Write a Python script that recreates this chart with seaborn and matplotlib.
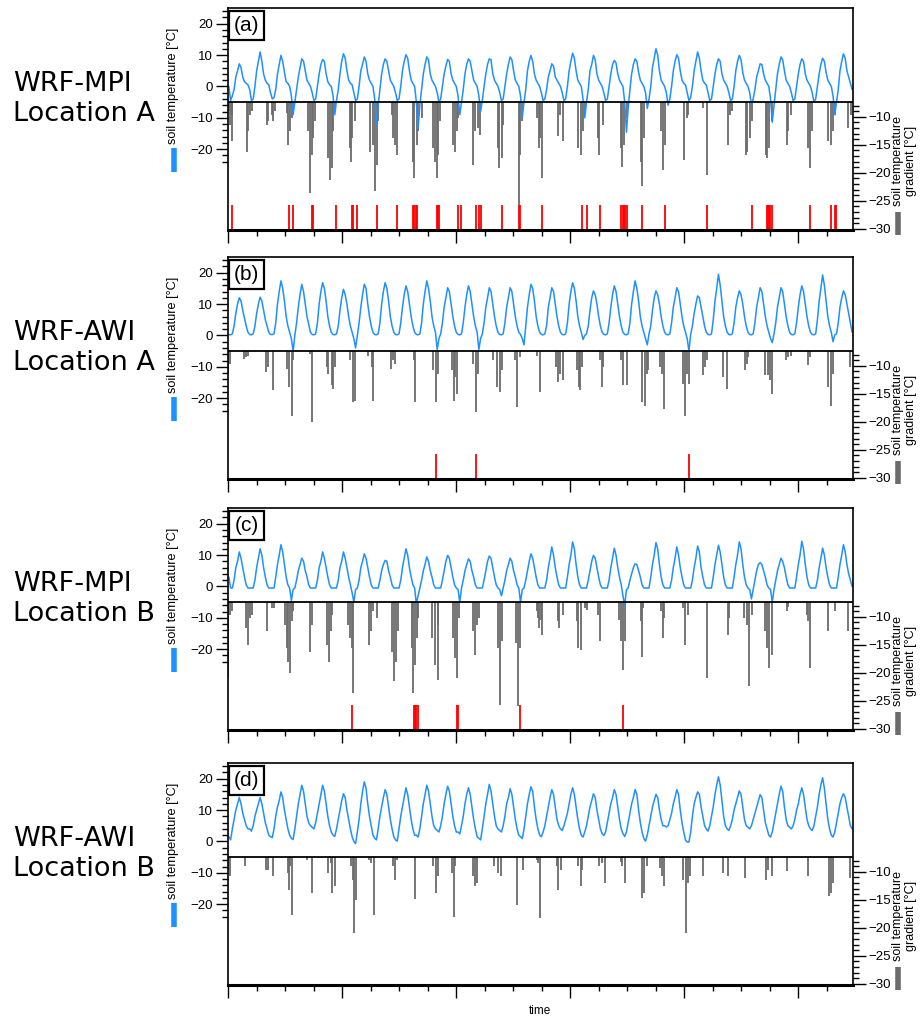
import numpy as np
import pandas as pd
import matplotlib
matplotlib.use("Agg")
import matplotlib.pyplot as plt
from matplotlib.ticker import FixedLocator
import seaborn as sns

# monthly soil temperature [degC], one row per year (Jan..Dec), 30 years
temp_a = [
    [0, -4.5, -3, -1, 3, 5, 7.2, 6, 3, 1.5, 1, 0.5],
    [-1, -4.5, -4, 0, 5, 8, 11, 8, 4, 2, 1, 0.5],
    [-2, -4, -3.5, -1, 4, 7, 9.9, 8, 4.5, 1.5, 1, 0],
    [-3, -9, -5, -1, 3, 6, 8.8, 8, 5, 2, 1, 0],
    [-2, -4.5, -4, 0, 4, 7, 8.6, 8, 4, 1.5, 0.5, 0],
    [-3, -9, -4.5, -1, 4, 8, 10.4, 9, 5, 2, 1, 0.5],
    [-2, -4.5, -4, 0, 5, 7, 9.4, 8, 4, 2, 1, 0],
    [-4, -12, -6, -1, 4, 7, 8.8, 8, 5, 2, 1, 0],
    [-2, -4.5, -4, 0, 5, 8, 10.1, 9, 5, 2, 1, 0],
    [-5, -13.5, -6, -1, 4, 7, 9.4, 8.5, 4, 2, 1, 0],
    [-2, -5, -4, 0, 4, 6.5, 8.6, 8, 4, 2, 1, 0],
    [-3, -9, -5, -1, 4, 7, 8.8, 8, 5, 2, 1, 0],
    [-3, -8, -4.5, 0, 4, 7, 8.8, 8.5, 4, 2, 1, 0],
    [-2, -4.5, -4, 0, 4, 7, 9.4, 8.5, 5, 2, 1, 0],
    [-3, -10, -5, -1, 5, 8, 9.9, 8, 4, 2, 1, 0],
    [-2, -4.5, -4, -1, 3, 5, 7.2, 6.5, 3, 2, 1, 0],
    [-2, -4.5, -4, 0, 5, 8, 10.6, 9, 5, 2, 1, 0],
    [-4, -10, -5, -1, 5, 7, 9.9, 8.5, 4, 2, 1, 0],
    [-2, -4.5, -4, 0, 4, 7, 8.3, 7.5, 4, 2, 1, 0],
    [-5, -14.6, -7, -1, 4, 7, 8.8, 8, 4.5, 2, 1, 0],
    [-2, -7, -4, 0, 6, 9, 12, 10, 5, 2, 1, 0],
    [-2, -6, -4, 0, 5, 8, 10.1, 9, 5, 2, 1, 0.5],
    [-2, -4.5, -3.5, 0, 5, 8, 11, 9, 5, 2, 1, 0.5],
    [-2, -4.5, -4, 0, 4, 7, 8.8, 8, 4, 2, 1, 0],
    [-2, -4.5, -4, 0, 5, 8, 9.9, 8.5, 4.5, 2, 1, 0],
    [-2, -6, -4, -1, 3, 5, 7.2, 7, 4, 2, 1, 0],
    [-4, -11.4, -6, -1, 4, 7, 9.4, 8.5, 5, 2, 1, 0],
    [-2, -4.5, -4, 0, 4, 7, 8.8, 8, 4, 2, 1, 0],
    [-2, -5, -4, 0, 4, 7, 9, 8, 4.5, 2, 1, 0],
    [-3, -9, -5, -1, 5, 8, 10.4, 9, 5, 3, 1, -1],
]
temp_b = [
    [0.3, 0.2, 0.5, 3, 7, 10, 12, 11, 8, 5.5, 3, 1],
    [0.3, 0.2, 0.5, 3, 7, 10, 12.2, 11, 8, 5, 3, 1],
    [0.3, 0.3, 0.5, 4, 10, 14, 17.4, 15, 11, 6, 3, 1],
    [-1, -5, 0, 4, 9, 13, 16.3, 14, 10, 6, 3.5, 1],
    [0.3, 0.2, 0.5, 4, 10, 14, 16.8, 15, 11, 6, 3, 1],
    [0.3, 0.2, 0.5, 3, 8, 12, 14.7, 13, 10, 6, 3, 1],
    [-1, -4, 0, 4, 9, 13, 16.3, 15, 10, 6, 3, 1],
    [0.3, 0.2, 0.5, 4, 10, 14, 16.8, 15, 11, 6, 3, 1],
    [0.3, 0.2, 0.5, 4, 9, 13, 15.8, 14, 10, 6, 3, 1],
    [0.3, 0.2, 0.5, 4, 10, 14, 17.4, 15, 11, 6, 3, 1],
    [-4.5, -1, 0.5, 4, 9, 12, 15.2, 14, 10, 6, 3, 1],
    [0.3, 0.2, 0.5, 4, 9, 13, 15.8, 14, 10, 6, 3, 1],
    [-4.5, -1, 0.5, 4, 9, 12, 15.2, 14, 10, 6, 3, 1],
    [0.3, 0.2, 0.5, 4, 9, 12, 15.2, 14, 10, 6, 3, 1],
    [0.3, -1, -3, 3, 9, 13, 16.3, 15, 11, 6, 3, 1],
    [0.3, 0.2, 0.5, 3, 9, 12, 15.2, 14, 10, 6, 3, 1],
    [0.3, 0.2, 0.5, 4, 10, 14, 16.8, 15, 11, 6, 3, 1],
    [-1.3, 0, 0.5, 3, 8, 12, 14.2, 13, 10, 6, 3, 1],
    [0.3, 0.2, 0.5, 4, 9, 13, 15.8, 14, 10, 6, 3, 1],
    [0.3, 0.2, 0.5, 4, 10, 14, 17.4, 15, 11, 6, 3, 1],
    [-1, -3, 0.5, 3, 8, 12, 14.2, 13, 10, 6, 3, 1],
    [0.3, 0.2, 0.5, 4, 9, 12, 15.2, 14, 10, 6, 3, 1],
    [-1, -5, 0.3, 3, 7, 10, 12.6, 12, 9, 6, 3, 1],
    [0.3, 0.2, 0.5, 5, 11, 15, 19.5, 16, 11, 6, 3, 1],
    [0.3, 0.2, 0.5, 4, 9, 12, 14.2, 13, 10, 6, 3, 1],
    [0.3, 0.2, 0.5, 4, 9, 12, 15.2, 14, 10, 6, 3, 1],
    [-1, -2.3, 0.5, 4, 9, 12, 15.2, 14, 10, 6, 3, 1],
    [0.3, 0.2, 0.5, 4, 9, 13, 15.8, 14, 10, 6, 3, 1],
    [0.3, 0.2, 0.5, 5, 11, 15, 19.3, 16, 11, 6, 3, 1],
    [-2, 0.2, 0.5, 4, 9, 12, 14.2, 13, 10, 7, 4, 1],
]
temp_c = [
    [3, -0.5, -0.5, 2, 6, 8, 11, 9, 6, 3, 0.5, -0.5],
    [-0.5, -0.5, -0.5, 2, 6, 9, 12, 10, 6, 3, 0.5, -0.5],
    [-0.5, -0.5, -0.5, 3, 7, 10, 13.3, 11, 7, 3, 0.5, -0.5],
    [-4.5, -1, -0.5, 2, 5, 7, 9, 8, 5, 3, 0.5, -0.5],
    [-0.5, -0.5, -0.5, 2, 6, 8, 11, 9, 6, 3, 0.5, -0.5],
    [-0.5, -0.5, -0.5, 2, 6, 8, 11, 9, 6, 3, 0.5, -2],
    [-5, -1, -0.5, 2, 6, 8, 10.4, 9, 6, 3, 0.5, -0.5],
    [-0.5, -0.5, -0.5, 2, 5, 7, 8.3, 8, 5, 3, 0.5, -0.5],
    [-0.5, -0.5, -0.5, 2, 6, 9, 12, 10, 6, 3, 0.5, -0.5],
    [-5.5, -3, -0.5, 2, 5, 7, 9.4, 8, 5, 3, 0.5, -0.5],
    [-0.5, -0.5, -0.5, 2, 5, 8, 9.9, 9, 6, 3, 0.5, -0.5],
    [-1, -5, -0.5, 2, 5, 7, 8.8, 8, 5, 3, 0.5, -0.5],
    [-0.5, -0.5, -0.5, 2, 5, 8, 9.7, 9, 6, 3, 0.5, -0.5],
    [-1, -3, -0.5, 2, 5, 7, 9, 8, 5, 3, 0.5, -0.5],
    [-5, -1, -0.5, 2, 5, 8, 10.4, 9, 6, 3, 0.5, -0.5],
    [-0.5, -0.5, -0.5, 2, 6, 9, 12.6, 10, 6, 3, 0.5, -0.5],
    [-0.5, -0.5, -0.5, 3, 7, 10, 14.2, 12, 7, 3, 0.5, -0.5],
    [-0.5, -0.5, -0.5, 2, 5, 8, 9.9, 9, 6, 3, 0.5, -0.5],
    [-0.5, -0.5, -0.5, 2, 6, 9, 12.2, 10, 6, 3, 0.5, -3],
    [-6, -1, -0.5, 2, 4, 6, 7.2, 7, 5, 3, 0.5, -0.5],
    [-0.5, -0.5, -0.5, 3, 7, 10, 14, 12, 7, 3, 0.5, -0.5],
    [-0.5, -0.5, -0.5, 2, 6, 9, 12.6, 10, 6, 3, 0.5, -0.5],
    [-0.5, -0.5, -0.5, 2, 6, 9, 12.9, 11, 6, 3, 0.5, -0.5],
    [-0.5, -0.5, -0.5, 3, 7, 10, 13.1, 11, 7, 3, 0.5, -0.5],
    [-0.5, -0.5, -0.5, 3, 7, 10, 14.2, 12, 7, 3, 0.5, -0.5],
    [-1, -4, -1, 2, 5, 7, 7.6, 7, 5, 3, 0.5, -0.5],
    [-1, -5, -1, 2, 5, 7, 9, 8, 6, 3, 0.5, -0.5],
    [-0.5, -0.5, -0.5, 3, 7, 10, 14.4, 12, 7, 3, 0.5, -0.5],
    [-0.5, -0.5, -0.5, 2, 6, 9, 12.2, 10, 6, 3, 0.5, -0.5],
    [-0.5, -0.5, -0.5, 3, 7, 10, 13.3, 11, 7, 4, 2, 0],
]
temp_d = [
    [1.5, 0.5, 4, 7, 10, 12, 14, 12, 9, 7, 5, 4],
    [4, 3.3, 5, 8, 10, 12, 14, 12, 9, 6, 4, 2],
    [1.5, 1.2, 4, 8, 11, 13, 15.8, 14, 10, 7, 4, 2],
    [1, 0.6, 4, 8, 12, 15, 17.9, 16, 12, 8, 6, 5],
    [4.5, 4, 6, 9, 12, 15, 17.9, 16, 12, 8, 5, 3],
    [2, 1.6, 4, 7, 10, 13, 15.2, 14, 10, 7, 4, 1.5],
    [0, -0.7, 3, 7, 12, 16, 19, 17, 12, 8, 5, 2],
    [1, 0.5, 4, 8, 11, 14, 16.5, 15, 11, 7, 4, 1.5],
    [0.5, 0.1, 4, 8, 11, 14, 17.1, 15, 11, 7, 4, 2],
    [2, 1.4, 4, 8, 12, 15, 17.9, 16, 12, 8, 5, 4],
    [3.5, 3, 5, 8, 12, 15, 17.6, 16, 12, 8, 5, 3],
    [3, 2.4, 5, 8, 12, 15, 17.1, 15, 11, 7, 4, 1.5],
    [1, 0.5, 4, 8, 12, 15, 18.2, 16, 12, 8, 5, 4],
    [3.5, 3, 5, 8, 12, 14, 16.8, 15, 11, 7, 4, 2],
    [1.5, 0.9, 4, 8, 12, 15, 17.4, 16, 11, 7, 4, 2],
    [1.5, 3, 5, 8, 11, 14, 16.5, 15, 11, 7, 5, 4],
    [3.5, 5, 7, 9, 12, 15, 17.1, 15, 11, 7, 4, 2],
    [1.4, 3, 5, 8, 11, 13, 15.2, 14, 10, 7, 4, 2.5],
    [1.9, 3, 6, 9, 12, 14, 16.5, 15, 11, 7, 4, 2.5],
    [1.6, 3, 6, 9, 12, 14, 16.5, 15, 10, 6, 3, 1],
    [0.1, 2, 5, 8, 11, 13, 15, 14, 10, 7, 5, 5],
    [4.6, 5, 7, 9, 12, 14, 16.5, 15, 10, 6, 3, 0.5],
    [-0.2, -0.2, 3, 8, 12, 14, 15.8, 15, 11, 8, 5, 4],
    [3.3, 5, 8, 11, 15, 18, 20.6, 18, 13, 8, 5, 4],
    [3.5, 5, 7, 10, 12, 14, 16.1, 15, 11, 7, 5, 4.5],
    [4, 5, 7, 9, 11, 13, 14.9, 14, 10, 6, 4, 2],
    [1.4, 3, 6, 9, 12, 15, 17.6, 16, 11, 7, 5, 4.5],
    [4, 5, 7, 10, 12, 15, 17.1, 15, 11, 7, 5, 4],
    [3.5, 5, 8, 11, 15, 18, 20.3, 17, 12, 7, 4, 2],
    [1.4, 3, 6, 9, 12, 14, 15.2, 14, 11, 8, 5, 4],
]

# soil temperature gradient events: (time in years, gradient [degC])
grad_a = [
    (0.05, -9.0), (0.10, -11.4), (0.18, -14.4), (0.21, -9.6), (0.90, -16.2), (0.98, -12.6),
    (1.06, -9.6), (1.14, -9.0), (1.86, -11.4), (1.94, -10.8), (2.10, -9.6), (2.18, -10.8),
    (2.26, -9.0), (2.82, -9.3), (2.90, -15.0), (2.98, -12.6), (3.06, -10.2), (3.14, -8.5),
    (3.86, -12.6), (3.94, -23.6), (4.02, -16.8), (4.10, -13.8), (4.18, -10.8), (4.82, -17.4),
    (4.90, -21.3), (4.98, -19.2), (5.06, -12.6), (5.14, -9.0), (5.86, -15.6), (5.90, -18.0),
    (5.97, -13.8), (6.10, -10.8), (6.82, -16.2), (6.98, -15.0), (7.06, -23.3), (7.14, -18.6),
    (7.22, -10.8), (7.86, -9.6), (7.94, -13.8), (8.02, -15.0), (8.10, -16.8), (8.90, -18.0),
    (8.94, -21.0), (9.06, -15.0), (9.14, -12.6), (9.30, -10.2), (9.86, -15.6), (9.94, -18.0),
    (10.02, -21.0), (10.10, -16.8), (10.18, -10.8), (10.82, -15.0), (10.90, -16.2), (10.98, -12.6),
    (11.06, -10.2), (11.78, -18.6), (11.86, -12.6), (12.02, -12.0), (12.10, -13.2), (12.94, -15.6),
    (13.01, -19.2), (13.14, -17.4), (13.22, -11.4), (13.98, -25.7), (14.02, -16.8), (14.10, -10.8),
    (14.82, -10.2), (14.93, -15.6), (14.98, -13.8), (15.09, -21.0), (15.86, -13.5), (15.94, -9.6),
    (16.10, -14.4), (16.82, -15.6), (16.94, -16.8), (17.06, -12.6), (17.14, -9.6), (17.78, -13.8),
    (17.82, -16.8), (18.02, -11.4), (18.86, -15.6), (18.93, -18.9), (19.02, -15.0), (19.14, -10.2),
    (19.82, -18.0), (19.89, -22.4), (19.98, -13.8), (20.78, -12.6), (20.90, -19.5), (20.98, -15.0),
    (21.90, -17.7), (22.02, -10.2), (22.10, -9.6), (22.82, -8.5), (22.98, -20.4), (23.98, -15.0),
    (24.10, -9.6), (24.18, -9.0), (24.85, -16.8), (24.93, -16.2), (25.06, -13.8), (25.14, -10.8),
    (25.82, -16.8), (25.89, -17.4), (25.98, -15.6), (26.10, -10.8), (26.82, -15.0), (26.90, -12.6),
    (27.02, -9.6), (27.86, -15.6), (27.94, -19.2), (28.02, -12.6), (28.82, -14.4), (28.94, -15.0),
    (29.06, -12.6), (29.14, -9.6), (29.78, -12.0), (29.89, -9.6),
]
grad_b = [
    (0.02, -11.4), (0.10, -9.6), (0.78, -8.8), (0.85, -8.5), (0.98, -8.2), (1.81, -11.1),
    (1.90, -10.2), (2.18, -14.4), (2.82, -10.5), (2.93, -13.8), (3.06, -18.9), (3.14, -9.0),
    (3.94, -7.9), (4.02, -20.1), (4.74, -10.2), (4.82, -11.4), (4.98, -13.5), (5.06, -14.1),
    (5.14, -10.2), (5.86, -9.0), (6.02, -16.5), (6.10, -16.2), (6.74, -8.2), (6.90, -10.2),
    (6.98, -16.2), (7.82, -10.5), (7.94, -9.0), (8.02, -9.6), (8.94, -9.0), (8.98, -16.5),
    (9.86, -10.8), (9.97, -16.5), (10.06, -11.4), (10.74, -10.8), (10.83, -16.2), (10.90, -12.0),
    (10.98, -15.0), (11.78, -9.6), (11.89, -18.3), (11.98, -11.4), (12.74, -9.0), (12.90, -13.8),
    (13.06, -14.7), (13.14, -10.8), (13.78, -9.0), (13.89, -17.4), (14.02, -8.5), (14.82, -8.2),
    (14.98, -14.7), (15.73, -10.2), (15.82, -12.9), (15.94, -11.4), (16.10, -12.6), (16.74, -10.8),
    (16.85, -13.8), (16.90, -14.4), (16.98, -10.2), (17.86, -9.0), (17.94, -13.8), (18.02, -10.2),
    (18.86, -9.0), (18.98, -13.5), (19.14, -13.5), (19.89, -16.5), (20.02, -17.1), (20.10, -11.4),
    (20.18, -10.8), (20.74, -10.2), (20.82, -11.4), (20.94, -17.7), (21.86, -13.2), (21.94, -18.9),
    (22.02, -11.4), (22.13, -13.2), (22.82, -11.7), (22.90, -10.2), (23.01, -9.0), (23.78, -12.0),
    (23.94, -14.1), (24.82, -10.8), (24.90, -9.6), (24.98, -8.5), (25.78, -11.7), (25.94, -11.7),
    (26.02, -12.6), (26.13, -15.0), (26.77, -9.0), (26.90, -8.5), (27.02, -8.2), (27.82, -9.9),
    (27.94, -8.5), (28.82, -13.8), (28.93, -17.1), (29.02, -11.4), (29.86, -10.2),
]
grad_c = [
    (0.02, -21.0), (0.10, -9.6), (0.18, -9.0), (0.85, -12.0), (0.94, -15.0), (1.06, -10.2),
    (1.14, -9.6), (1.86, -12.6), (2.10, -8.5), (2.22, -8.5), (2.74, -11.4), (2.82, -15.6),
    (2.90, -18.0), (2.98, -20.1), (3.06, -10.8), (3.14, -9.0), (3.94, -16.2), (4.05, -11.4),
    (4.74, -15.0), (4.85, -18.0), (4.94, -12.6), (5.01, -9.6), (5.78, -11.4), (5.86, -13.8),
    (5.94, -15.6), (5.98, -23.6), (6.77, -15.0), (6.86, -12.6), (6.98, -9.0), (7.14, -10.2),
    (7.86, -16.2), (7.98, -21.5), (8.05, -18.0), (8.14, -12.6), (8.85, -15.6), (8.90, -23.6),
    (8.98, -18.6), (9.06, -13.8), (9.14, -10.2), (9.81, -13.8), (9.94, -18.6), (10.06, -21.3),
    (10.10, -11.4), (10.78, -13.8), (10.90, -17.4), (10.98, -21.0), (11.09, -10.2), (11.78, -12.6),
    (11.86, -16.8), (11.94, -11.4), (12.05, -10.2), (12.98, -15.6), (13.06, -25.7), (13.14, -14.4),
    (13.81, -14.7), (13.94, -26.0), (14.02, -15.6), (14.82, -9.0), (14.90, -10.2), (14.93, -12.0),
    (15.02, -10.5), (15.09, -13.2), (15.82, -10.8), (15.89, -12.0), (16.10, -9.6), (16.74, -10.8),
    (16.82, -15.6), (16.94, -15.9), (17.14, -8.5), (17.22, -8.8), (17.78, -9.6), (17.86, -14.4),
    (18.77, -10.5), (18.86, -14.4), (18.94, -19.5), (19.06, -14.4), (19.82, -10.8), (19.86, -17.1),
    (19.94, -8.5), (20.78, -9.0), (20.86, -13.8), (20.94, -10.2), (21.86, -8.5), (21.94, -15.0),
    (22.06, -9.6), (22.98, -21.0), (23.98, -13.2), (24.05, -10.2), (24.78, -10.2), (24.90, -11.4),
    (25.01, -22.4), (25.14, -9.6), (25.78, -12.6), (25.89, -15.6), (25.98, -19.2), (26.10, -16.8),
    (26.82, -9.0), (26.90, -8.2), (27.78, -9.6), (27.86, -10.8), (27.94, -19.2), (28.78, -12.6),
    (29.14, -9.0), (29.78, -12.6),
]
grad_d = [
    (0.02, -9.6), (0.10, -10.8), (0.82, -9.0), (1.81, -9.6), (1.90, -9.6), (2.18, -10.8),
    (2.86, -10.2), (2.93, -13.2), (2.98, -9.0), (3.09, -17.7), (3.78, -7.9), (4.05, -13.8),
    (4.82, -10.2), (4.94, -8.5), (5.01, -13.8), (5.14, -12.6), (5.90, -9.0), (6.02, -11.4),
    (6.06, -21.0), (6.13, -15.0), (6.77, -7.9), (6.86, -8.5), (7.01, -17.7), (7.94, -9.0),
    (8.02, -11.4), (8.10, -7.9), (8.98, -14.9), (9.86, -9.0), (9.97, -13.8), (10.06, -10.8),
    (10.74, -10.2), (10.83, -18.0), (10.90, -9.0), (11.78, -10.8), (11.86, -12.6), (11.94, -12.0),
    (12.78, -9.0), (12.98, -10.2), (13.10, -10.8), (13.86, -16.0), (14.18, -9.6), (14.82, -7.9),
    (14.90, -8.5), (14.99, -18.3), (15.78, -9.0), (15.86, -13.2), (15.98, -9.6), (16.82, -9.0),
    (16.93, -12.6), (16.98, -9.6), (17.81, -9.0), (17.94, -8.5), (18.10, -12.0), (18.86, -8.2),
    (18.93, -9.0), (19.06, -12.0), (19.89, -14.7), (19.98, -13.8), (20.10, -9.0), (20.74, -9.3),
    (20.82, -10.8), (20.94, -12.6), (21.86, -11.4), (21.97, -21.0), (22.06, -12.0), (22.18, -10.8),
    (22.82, -10.8), (23.78, -10.2), (23.98, -10.8), (24.82, -11.1), (25.81, -11.4), (25.94, -9.6),
    (26.10, -10.8), (26.85, -9.9), (27.82, -10.8), (28.85, -14.4), (28.94, -13.8), (29.02, -12.0),
    (29.86, -11.1),
]

# times (years) of flagged events, drawn as red marks at the bottom
red_a = [0.21, 2.93, 3.14, 4.05, 4.10, 5.17, 5.94, 6.02, 6.18, 7.17, 8.13, 8.90, 8.94, 9.01,
         9.09, 10.03, 10.10, 10.14, 11.06, 11.18, 11.89, 12.05, 12.14, 13.17, 13.97, 14.02,
         15.06, 17.01, 17.22, 17.87, 18.86, 18.98, 19.02, 19.07, 19.14, 19.89, 20.98, 23.01,
         25.14, 25.89, 25.94, 25.98, 26.03, 26.10, 27.95, 28.94, 29.14, 29.20]
red_b = [9.98, 11.90, 22.14]
red_c = [5.96, 8.94, 8.99, 9.04, 9.10, 11.01, 11.06, 14.02, 18.98]
red_d = []

panel_tags = ["(a)", "(b)", "(c)", "(d)"]
row_names = ["WRF-MPI\nLocation A", "WRF-AWI\nLocation A", "WRF-MPI\nLocation B", "WRF-AWI\nLocation B"]

BLUE = "#1e90ff"
GREY = "#6b6b6b"
YEAR = 365.25
T_LIM = (-45.76, 25)
G_LIM = (-30.2, 9.4)

sns.set_style("white")
plt.rcParams["font.family"] = ["Liberation Sans", "DejaVu Sans"]
plt.rcParams["text.color"] = "black"
plt.rcParams["xtick.color"] = "black"
plt.rcParams["ytick.color"] = "black"
plt.rcParams["axes.labelcolor"] = "black"

fig = plt.figure(figsize=(9.22, 10.19), dpi=100)
W, H = 922, 1019
tops = [8, 257, 508, 763]

panels = zip(tops, [temp_a, temp_b, temp_c, temp_d], [grad_a, grad_b, grad_c, grad_d],
             [red_a, red_b, red_c, red_d], panel_tags, row_names)

for top, temp, grad, red, tag, name in panels:
    ax = fig.add_axes([228 / W, 1 - (top + 222) / H, 625 / W, 222 / H])
    ax2 = ax.twinx()
    ax.set_zorder(ax2.get_zorder() + 1)
    ax.patch.set_visible(False)

    temps = np.array(temp, dtype=float).ravel()
    df = pd.DataFrame({"day": (np.arange(temps.size) + 0.5) * YEAR / 12, "temp": temps})
    sns.lineplot(data=df, x="day", y="temp", ax=ax, color=BLUE, lw=1.1)
    ax.axhline(-5, color="black", lw=1.3, zorder=4)

    ax.set_xlim(0, 30 * YEAR)
    ax.set_ylim(*T_LIM)
    ax2.set_ylim(*G_LIM)
    base2 = G_LIM[0] + (-5 - T_LIM[0]) / (T_LIM[1] - T_LIM[0]) * (G_LIM[1] - G_LIM[0])

    gt, gv = zip(*grad)
    ax2.vlines(np.array(gt) * YEAR, gv, base2, color=GREY, lw=1.3)
    if red:
        ax2.vlines(np.array(red) * YEAR, G_LIM[0], -25.8, color="red", lw=1.3)

    ax.set_xlabel("")
    ax.set_ylabel("")
    ax2.set_ylabel("")
    for s in ax2.spines.values():
        s.set_visible(False)
    for s in ax.spines.values():
        s.set_color("black")
        s.set_linewidth(1.2)
    ax.spines["bottom"].set_linewidth(2.2)

    ax.set_xticks(np.arange(0, 30 * YEAR, 2000))
    ax.xaxis.set_minor_locator(FixedLocator(np.arange(0, 30 * YEAR, 500)))
    ax.set_xticklabels([])
    ax.set_yticks([-20, -10, 0, 10, 20])
    ax.yaxis.set_minor_locator(FixedLocator(np.arange(-24, 25, 2)))
    ax2.set_yticks([-30, -25, -20, -15, -10])
    ax2.yaxis.set_minor_locator(FixedLocator(np.arange(-30, -7, 1)))

    ax.tick_params(axis="x", which="both", bottom=True, top=False, direction="out", color="black", width=1)
    ax.tick_params(axis="x", which="major", length=9)
    ax.tick_params(axis="x", which="minor", length=4.5)
    ax.tick_params(axis="y", which="both", left=True, right=False, direction="out", color="black",
                   width=1, labelsize=9.5, pad=2, labelcolor="black")
    ax.tick_params(axis="y", which="major", length=9)
    ax.tick_params(axis="y", which="minor", length=4)
    ax2.tick_params(axis="y", which="both", right=True, left=False, direction="out", color="black",
                    width=1, labelsize=9.5, pad=2, labelcolor="black")
    ax2.tick_params(axis="y", which="major", length=9)
    ax2.tick_params(axis="y", which="minor", length=4)

    ax.text(0.0296, 0.921, tag, transform=ax.transAxes, ha="center", va="center", fontsize=15,
            zorder=10, bbox=dict(boxstyle="square,pad=0.25", fc="white", ec="black", lw=1.6))

    ax.text(-0.088, 0.649, "soil temperature [°C]", transform=ax.transAxes, rotation=90,
            ha="center", va="center", fontsize=9.2)
    ax.plot([-0.0864, -0.0864], [0.262, 0.371], transform=ax.transAxes, color=BLUE, lw=4,
            clip_on=False, solid_capstyle="butt")
    ax.text(1.083, 0.31, "soil temperature\ngradient [°C]", transform=ax.transAxes, rotation=90,
            ha="center", va="center", multialignment="center", fontsize=9, linespacing=1.1)
    ax.plot([1.072, 1.072], [-0.023, 0.081], transform=ax.transAxes, color=GREY, lw=4,
            clip_on=False, solid_capstyle="butt")

    fig.text(13 / W, 1 - (top + 91) / H, name, ha="left", va="center", fontsize=19.5,
             family="DejaVu Sans", linespacing=1.2, color="black")

fig.text(540 / W, 1 - 1011 / H, "time", ha="center", va="center", fontsize=8.5)

fig.savefig("out.png", dpi=100)
